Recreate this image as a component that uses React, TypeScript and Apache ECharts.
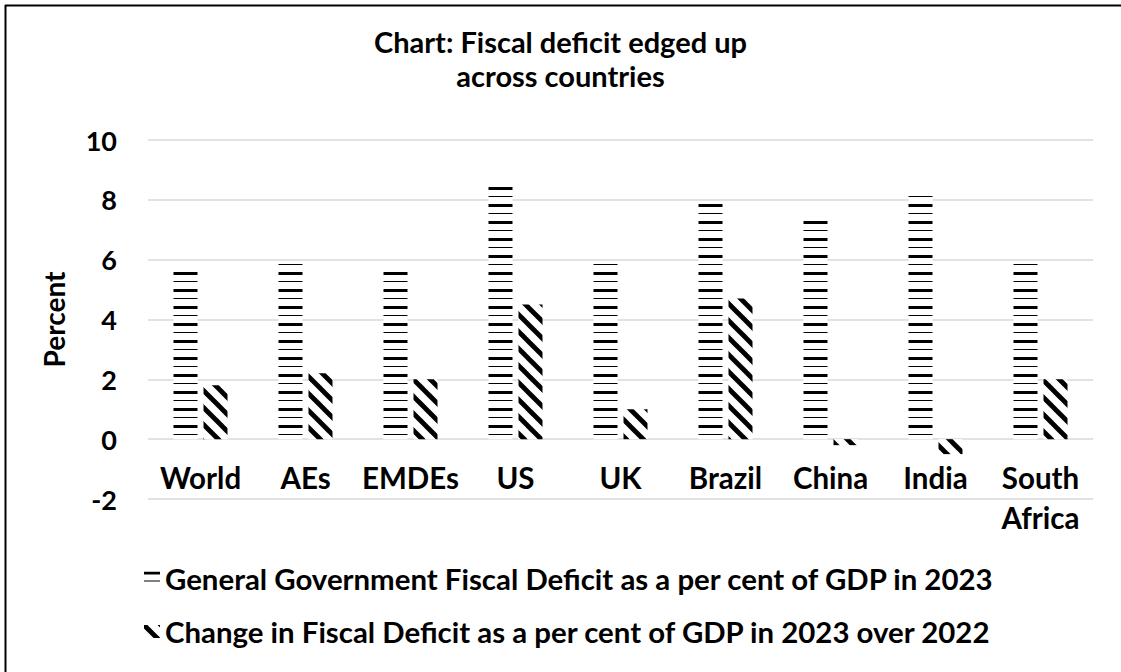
import React, { useEffect, useRef } from "react";
import * as echarts from "echarts";

const categories = ["World", "AEs", "EMDEs", "US", "UK", "Brazil", "China", "India", "South Africa"];
const deficit2023 = [5.6, 5.9, 5.6, 8.5, 5.9, 7.9, 7.3, 8.2, 5.9];
const changeOver2022 = [1.8, 2.2, 2.0, 4.5, 1.0, 4.7, -0.2, -0.5, 2.0];
const seriesNames = [
  "General Government Fiscal Deficit as a per cent of GDP in 2023",
  "Change in Fiscal Deficit as a per cent of GDP in 2023 over 2022",
];
const titleText = "Chart: Fiscal deficit edged up\nacross countries";
const yAxisName = "Percent";

const FONT = "Lato";

function makeHLines(): HTMLCanvasElement {
  const c = document.createElement("canvas");
  c.width = 8;
  c.height = 17;
  const ctx = c.getContext("2d")!;
  ctx.fillStyle = "#ffffff";
  ctx.fillRect(0, 0, 8, 17);
  ctx.fillStyle = "#000000";
  ctx.fillRect(0, 0, 8, 3);
  ctx.fillRect(0, 9, 8, 1);
  return c;
}

function makeDiag(): HTMLCanvasElement {
  const s = 17;
  const c = document.createElement("canvas");
  c.width = s;
  c.height = s;
  const ctx = c.getContext("2d")!;
  ctx.fillStyle = "#ffffff";
  ctx.fillRect(0, 0, s, s);
  ctx.strokeStyle = "#000000";
  ctx.lineWidth = 4.8;
  for (const o of [-s, 0, s]) {
    ctx.beginPath();
    ctx.moveTo(o - 2, -2);
    ctx.lineTo(o + s + 2, s + 2);
    ctx.stroke();
  }
  return c;
}

export default function App() {
  const ref = useRef<HTMLDivElement>(null);
  useEffect(() => {
    document.body.style.margin = "0";
    const chart = echarts.init(ref.current!, null, { renderer: "svg" });
    const hPattern = { image: makeHLines(), repeat: "repeat" };
    const dPattern = { image: makeDiag(), repeat: "repeat" };
    chart.setOption({
      animation: false,
      backgroundColor: "#ffffff",
      title: {
        text: titleText,
        left: "center",
        top: 19.5,
        textStyle: { fontFamily: FONT, fontWeight: "bold", fontSize: 29, lineHeight: 34, color: "#000" },
      },
      graphic: [
        { type: "line", shape: { x1: 5, y1: 5.5, x2: 1121, y2: 5.5 }, style: { stroke: "#000", lineWidth: 2 } },
        { type: "line", shape: { x1: 5.5, y1: 5, x2: 5.5, y2: 672 }, style: { stroke: "#000", lineWidth: 2 } },
      ],
      legend: {
        orient: "vertical",
        left: 139,
        top: 557,
        itemGap: 21.5,
        itemWidth: 16,
        itemHeight: 13,
        icon: "rect",
        data: seriesNames,
        textStyle: { fontFamily: FONT, fontWeight: "bold", fontSize: 29.4, lineHeight: 32, color: "#000" },
      },
      grid: { left: 148, right: 28, top: 140, bottom: 173 },
      xAxis: {
        type: "category",
        data: categories,
        offset: -60,
        axisLine: { show: false, onZero: false },
        axisTick: { show: false },
        axisLabel: {
          fontFamily: FONT,
          fontWeight: "bold",
          fontSize: 29.5,
          lineHeight: 40,
          color: "#000",
          margin: 18.5,
          interval: 0,
          formatter: (v: string) => v.replace(" ", "\n"),
        },
      },
      yAxis: {
        type: "value",
        min: -2,
        max: 10,
        interval: 2,
        name: yAxisName,
        nameLocation: "middle",
        nameRotate: 90,
        nameGap: 80,
        nameTextStyle: { fontFamily: FONT, fontWeight: "bold", fontSize: 28, color: "#000" },
        axisLine: { show: false },
        axisTick: { show: false },
        splitLine: { lineStyle: { color: "#d9d9d9", width: 1.5 } },
        axisLabel: { fontFamily: FONT, fontWeight: "bold", fontSize: 27, color: "#000", margin: 31 },
      },
      series: [
        {
          name: seriesNames[0],
          type: "bar",
          data: deficit2023,
          barWidth: 24,
          barGap: "25%",
          itemStyle: { color: hPattern },
        },
        {
          name: seriesNames[1],
          type: "bar",
          data: changeOver2022,
          barWidth: 24,
          barGap: "25%",
          itemStyle: { color: dPattern },
        },
      ],
    });
    return () => chart.dispose();
  }, []);
  return <div ref={ref} style={{ position: "absolute", left: 0, top: 0, width: 1121, height: 672 }} />;
}
